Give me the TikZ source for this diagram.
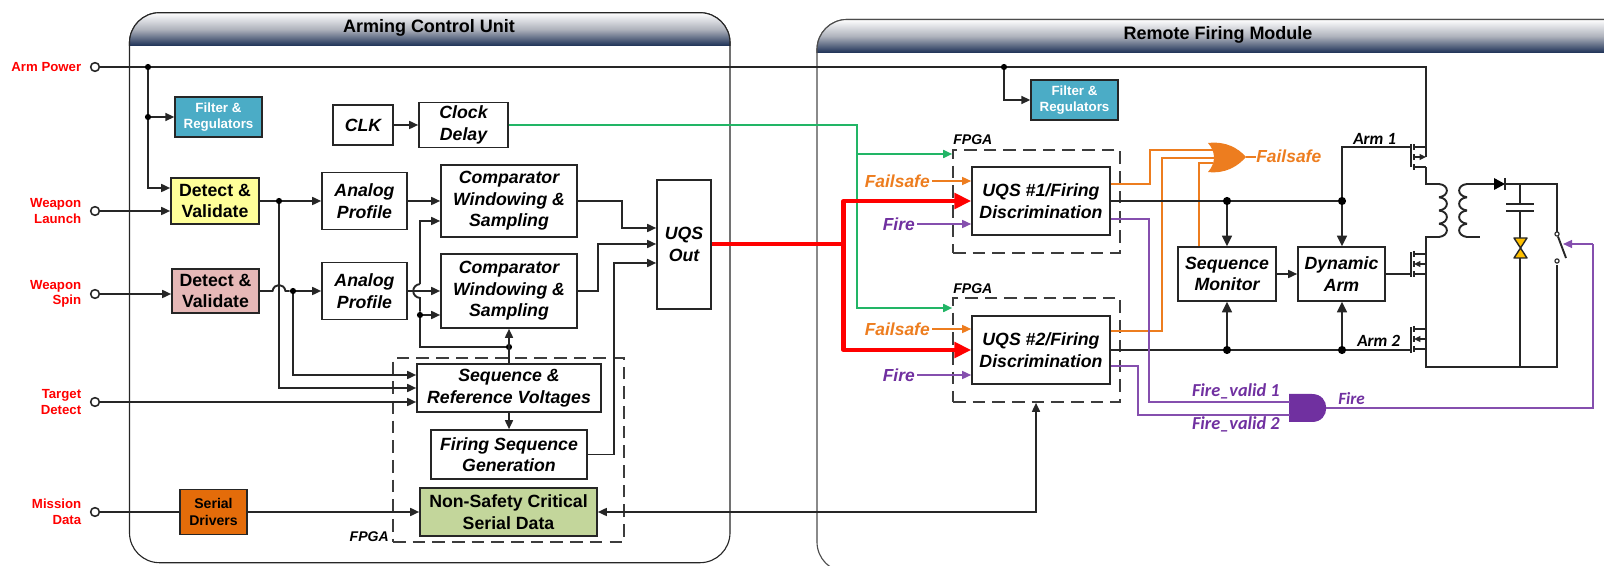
\documentclass[tikz,border=0pt]{standalone}
\usepackage{fontspec}
\setmainfont{Liberation Sans}
\newfontfamily\carlito{Carlito}
\usetikzlibrary{arrows.meta}
\usetikzlibrary{positioning}
\definecolor{navyhead}{HTML}{1B2F55}
\definecolor{greyhead}{HTML}{AEB2BC}
\definecolor{wirecol}{HTML}{262626}
\definecolor{cFilter}{HTML}{4BACC6}
\definecolor{cYellow}{HTML}{FFFF99}
\definecolor{cPink}{HTML}{E6B8B7}
\definecolor{cGreen}{HTML}{C3D69B}
\definecolor{cSerial}{HTML}{E46C0A}
\definecolor{cOrange}{HTML}{ED7D1F}
\definecolor{cPurple}{HTML}{7030A0}
\definecolor{cClock}{HTML}{22B566}
\definecolor{cBow}{HTML}{FFC000}
\tikzset{
    sz/.style 2 args={minimum width=#1*0.25mm,minimum height=#2*0.25mm},
    blk/.style={draw=wirecol,line width=1.1pt,fill=white,inner sep=0pt,align=center,
        font=\fontsize{12.6}{15.4}\selectfont\bfseries\itshape},
    solid blk/.style={blk,font=\fontsize{12.6}{15.4}\selectfont\bfseries},
    fltr/.style={draw=wirecol,line width=.9pt,fill=cFilter,inner sep=0pt,align=center,text=white,
        font=\fontsize{9.5}{11.2}\selectfont\bfseries,sz={87}{40}},
    fpga/.style={draw=wirecol!90,line width=1.1pt,dash pattern=on 9pt off 5pt,inner sep=0pt},
    fpgatxt/.style={font=\fontsize{10}{12}\selectfont\bfseries\itshape,inner sep=0pt},
    sig/.style={text=red,align=right,inner sep=0pt,font=\fontsize{9.4}{11}\selectfont\bfseries},
    term/.style={circle,draw=wirecol,line width=1.1pt,fill=white,inner sep=0pt,minimum size=6.2pt},
    dot/.style={circle,fill=black,inner sep=0pt,minimum size=4.4pt},
    bigdot/.style={circle,fill=black,inner sep=0pt,minimum size=5.8pt},
    wire/.style={draw=wirecol,line width=1.35pt},
    thin wire/.style={draw=wirecol,line width=1pt},
    clkwire/.style={draw=cClock,line width=1.4pt},
    fsw/.style={draw=cOrange,line width=1.2pt},
    firew/.style={draw=cPurple!85,line width=1.2pt},
    redw/.style={draw=red,line width=2.9pt,line join=round},
    fstxt/.style={text=cOrange,inner sep=0pt,font=\fontsize{12.4}{14}\selectfont\bfseries\itshape},
    firetxt/.style={text=cPurple,inner sep=0pt,font=\fontsize{12.4}{14}\selectfont\bfseries\itshape},
    calitxt/.style={inner sep=0pt,font=\fontsize{12.2}{14}\selectfont\carlito\bfseries\itshape},
    title/.style={inner sep=0pt,font=\fontsize{12.8}{15}\selectfont\bfseries},
    hdr/.style={top color=white,bottom color=navyhead,middle color=greyhead},
    >={Stealth[inset=0pt,length=6.4pt,width=5.6pt]},
    big/.style={-{Stealth[inset=0pt,length=7.5pt,width=7pt]}},
    huge/.style={-{Stealth[inset=0pt,length=12pt,width=11pt]}},
    tiny/.style={-{Stealth[inset=0pt,length=4.6pt,width=4.2pt]}}
}
\begin{document}
\begin{tikzpicture}[x=0.25mm,y=-0.25mm]
    \useasboundingbox (0,0) rectangle (1604,566);
    \clip (0,0) rectangle (1604,566);
    % panels
    \draw[draw=black!85,line width=.8pt,rounded corners=7.5mm] (129.5,12.7) rectangle (730,562.7);
    \shade[hdr,sharp corners] (129.5,46) [rounded corners=7.5mm] -- (129.5,12.7) -- (730,12.7) [sharp corners] -- (730,46) -- cycle;
    \draw[draw=black!85,line width=.8pt,sharp corners] (129.5,46) [rounded corners=7.5mm] -- (129.5,12.7) -- (730,12.7) [sharp corners] -- (730,46);
    \draw[draw=black!70,line width=.8pt,rounded corners=7.5mm] (817,19.5) rectangle (1720,572);
    \shade[hdr,sharp corners] (817,53) [rounded corners=7.5mm] -- (817,19.5) -- (1720,19.5) [sharp corners] -- (1720,53) -- cycle;
    \draw[draw=black!70,line width=.8pt,sharp corners] (817,53) [rounded corners=7.5mm] -- (817,19.5) -- (1720,19.5);
    \node[title] (acuTitle) at (429,28) {Arming Control Unit};
    \node[title] (rfmTitle) at (1218,35) {Remote Firing Module};
    % fpga frames
    \node[fpga,sz={231}{184}] (fpgaL) at (508.5,450) {};
    \node[fpga,sz={167}{103}] (fpgaA) at (1036.5,201.5) {};
    \node[fpga,sz={167}{104}] (fpgaB) at (1036.5,350) {};
    \node[fpgatxt,anchor=east] (fpgaLtxt) at (389,537) {FPGA};
    \node[fpgatxt,anchor=west] (fpgaAtxt) at (953,140) {FPGA};
    \node[fpgatxt,anchor=west] (fpgaBtxt) at (953,289) {FPGA};
    % left blocks
    \node[fltr] (fltA) at (218.5,117) {Filter \&\\Regulators};
    \node[blk,sz={60}{40}] (clk) at (363,125) {CLK};
    \node[blk,sz={89}{45}] (clkDly) at (463.5,125) {Clock\\Delay};
    \node[solid blk,fill=cYellow,sz={88}{46}] (detA) at (215,201) {Detect \&\\Validate};
    \node[blk,sz={85}{57}] (anaA) at (364.5,201) {Analog\\Profile};
    \node[solid blk,fill=cPink,sz={87}{44}] (detB) at (215.5,291) {Detect \&\\Validate};
    \node[blk,sz={85}{57}] (anaB) at (364.5,291) {Analog\\Profile};
    \node[blk,sz={136}{72}] (cmpA) at (509,201) {Comparator\\Windowing \&\\Sampling};
    \node[blk,sz={136}{74}] (cmpB) at (509,291) {Comparator\\Windowing \&\\Sampling};
    \node[blk,sz={54}{129}] (uqsOut) at (684,244.5) {UQS\\Out};
    \node[blk,sz={184}{48}] (seqRef) at (509,388) {Sequence \&\\Reference Voltages};
    \node[blk,sz={156}{49}] (fireSeq) at (509,454.5) {Firing Sequence\\Generation};
    \node[solid blk,fill=cGreen,sz={177}{48}] (nonSafe) at (508.5,512) {Non-Safety Critical\\Serial Data};
    \node[draw=wirecol,line width=1pt,fill=cSerial,inner sep=0pt,align=center,sz={67}{45},
        font=\fontsize{10}{11.9}\selectfont\bfseries] (serDrv) at (213.5,512) {Serial\\Drivers};
    % right blocks
    \node[fltr] (fltB) at (1074.5,100) {Filter \&\\Regulators};
    \node[blk,sz={138}{68}] (uqsA) at (1041,201) {UQS \#1/Firing\\Discrimination};
    \node[blk,sz={138}{68}] (uqsB) at (1041,350) {UQS \#2/Firing\\Discrimination};
    \node[blk,sz={98}{54}] (seqMon) at (1227,274) {Sequence\\Monitor};
    \node[blk,sz={87}{54}] (dynArm) at (1341.5,274) {Dynamic\\Arm};
    % inputs
    \node[term] (tArm) at (95,67) {};
    \node[term] (tLch) at (95,211) {};
    \node[term] (tSpn) at (95,294) {};
    \node[term] (tTgt) at (95,402) {};
    \node[term] (tMsn) at (95,512) {};
    \node[sig,left=2.1mm of tArm] (lArm) {Arm Power};
    \node[sig,left=2.1mm of tLch] (lLch) {Weapon\\Launch};
    \node[sig,left=2.1mm of tSpn] (lSpn) {Weapon\\Spin};
    \node[sig,left=2.1mm of tTgt] (lTgt) {Target\\Detect};
    \node[sig,left=2.1mm of tMsn] (lMsn) {Mission\\Data};
    % junctions
    \node[dot] (jArmA) at (148,67) {};
    \node[dot] (jArmB) at (148,117) {};
    \node[dot] (jArmC) at (1004,67) {};
    \node[dot] (jDetA) at (279,201) {};
    \node[dot] (jDetB) at (293,291) {};
    \node[dot] (jCmp) at (420,315) {};
    \node[dot] (jSeq) at (509,347) {};
    \node[bigdot] (jMonA) at (1227,201) {};
    \node[bigdot] (jArmD) at (1342,201) {};
    \node[bigdot] (jMonB) at (1227,350) {};
    \node[bigdot] (jArmE) at (1342,350) {};
    \coordinate (jRed) at (843.5,244);
    \coordinate (jGrn) at (857,154);
    % power and sensor wires
    \draw[wire] (tArm) -- (jArmA) -- (jArmC) -- (1426,67) -- (1426,157);
    \draw[wire] (jArmA) -- (jArmB);
    \draw[wire,->] (jArmB) -- (fltA.west |- jArmB);
    \draw[wire,->] (jArmB) |- (detA.west |- 0,188);
    \draw[wire,->] (jArmC) |- (fltB.west);
    \draw[wire,->] (tLch) -- (detA.west |- tLch);
    \draw[wire,->] (tSpn) -- (detB.west |- tSpn);
    \draw[wire] (tMsn) -- (serDrv.west);
    \draw[wire,->] (serDrv.east) -- (nonSafe.west);
    \draw[wire,->] (tTgt) -- (seqRef.west |- tTgt);
    \draw[wire,->] (clk.east) -- (clkDly.west);
    \draw[wire] (detA.east) -- (jDetA);
    \draw[wire,->] (jDetA) -- (anaA.west);
    \draw[wire,->] (anaA.east) -- (cmpA.west);
    \draw[wire] (detB.east) -- (272.5,291) .. controls (274,283) and (284,283) .. (285.5,291) -- (jDetB);
    \draw[wire,->] (jDetB) -- (anaB.west);
    \draw[wire,->] (jDetA) |- (seqRef.west |- 0,388);
    \draw[wire,->] (jDetB) |- (seqRef.west |- 0,375);
    \draw[wire,->] (anaB.east) -- (cmpB.west);
    \draw[wire,->] (420,284) -- (420,221) -- (cmpA.west |- 0,221);
    \draw[wire] (420,284) .. controls (411,285) and (411,297) .. (420,298) -- (jCmp);
    \draw[wire,->] (jCmp) -- (cmpB.west |- jCmp);
    \draw[wire] (jCmp) |- (jSeq);
    \draw[wire,->] (seqRef.north) -- (cmpB.south);
    \draw[wire,->] (seqRef.south) -- (fireSeq.north);
    \draw[wire,->] (cmpA.east) -| (622,228) -- (uqsOut.west |- 0,228);
    \draw[wire,->] (cmpB.east) -| (598,244) -- (uqsOut.west |- 0,244);
    \draw[wire,->] (fireSeq.east) -| (614,263) -- (uqsOut.west |- 0,263);
    \draw[wire,big,<->] (nonSafe.east) -| (fpgaB.south -| 1036,0);
    % clock and uqs
    \draw[clkwire] (clkDly.east) -| (jGrn);
    \draw[clkwire,->] (jGrn) -- (fpgaA.west |- jGrn);
    \draw[clkwire,->] (jGrn) |- (fpgaB.west |- 0,308);
    \draw[redw] (uqsOut.east |- jRed) -- (jRed);
    \draw[redw,huge] (jRed) |- (uqsA.west);
    \draw[redw,huge] (jRed) |- (uqsB.west);
    % uqs inputs
    \foreach \nm/\yy/\bx in {fsA/181/uqsA,fsB/329/uqsB}{
        \node[fstxt,anchor=east] (\nm) at (930,\yy) {Failsafe};
        \draw[fsw,->] (\nm.east) ++(2,0) -- (\bx.west |- \nm);
    }
    \foreach \nm/\yy/\bx in {frA/224/uqsA,frB/375/uqsB}{
        \node[firetxt,anchor=east] (\nm) at (915,\yy) {Fire};
        \draw[firew,->] (\nm.east) ++(2,0) -- (\bx.west |- \nm);
    }
    % or gate
    \fill[cOrange] (1208,143) .. controls (1226,141) and (1238,148) .. (1246,157)
        .. controls (1238,166) and (1226,174) .. (1208,172) .. controls (1216,163) and (1216,152) .. cycle;
    \coordinate (orOut) at (1246,157);
    \draw[fsw] (uqsA.east |- 0,184) -| (1150,150) -- (1213,150);
    \draw[fsw] (uqsB.east |- 0,331) -| (1162,158) -- (1215,158);
    \draw[fsw] (seqMon.north -| 1199,0) |- (1213,163);
    \draw[fsw] (orOut) -- (1256,157);
    \node[fstxt,anchor=west] (fsOut) at (1256,156) {Failsafe};
    % monitor and arm
    \draw[wire] (uqsA.east) -- (jMonA);
    \draw[wire] (jMonA) -- (jArmD);
    \draw[wire] (uqsB.east) -- (jMonB);
    \draw[wire] (jMonB) -- (jArmE);
    \draw[wire,big] (jMonA) -- (seqMon.north);
    \draw[wire,big] (jArmD) -- (dynArm.north -| jArmD);
    \draw[wire,big] (jMonB) -- (seqMon.south);
    \draw[wire,big] (jArmE) -- (dynArm.south -| jArmE);
    \draw[wire,->] (seqMon.east) -- (dynArm.west);
    \draw[wire] (jArmD) |- (1411,147);
    \draw[wire] (dynArm.east) -- (1411,274);
    \draw[wire] (jArmE) -- (1411,350);
    \node[calitxt,anchor=west] (armA) at (1353,139) {Arm 1};
    \node[calitxt,anchor=west] (armB) at (1357,341) {Arm 2};
    % fire valid
    \fill[cPurple] (1289,394) -- (1312,394) .. controls (1331,394) and (1331,422) .. (1312,422) -- (1289,422) -- cycle;
    \coordinate (andOut) at (1326,408);
    \draw[firew] (uqsA.east |- 0,219) -| (1149,402) -- (1290,402);
    \draw[firew] (uqsB.east |- 0,366) -| (1138,415) -- (1290,415);
    \node[calitxt,text=cPurple,anchor=east,font=\fontsize{13}{15}\selectfont\carlito\bfseries\itshape] (fvA) at (1280,391) {Fire\_valid 1};
    \node[calitxt,text=cPurple,anchor=east,font=\fontsize{13}{15}\selectfont\carlito\bfseries\itshape] (fvB) at (1280,424) {Fire\_valid 2};
    \node[calitxt,text=cPurple,anchor=west] (frOut) at (1338,399) {Fire};
    % mosfets
    \foreach \yy/\gb/\ge in {147/144/167,254/252/277,329/327/353}{
        \draw[thin wire] (1411,\gb) -- (1411,\ge);
        \foreach \dy in {-3,7,17}
            \draw[thin wire] (1414,\yy+\dy) -- (1414,\yy+\dy+6);
        \draw[wire] (1414,\yy) -- (1426,\yy);
        \draw[wire] (1414,\yy+20) -- (1426,\yy+20);
    }
    \draw[thin wire,tiny] (1414,157) -- (1426,157);
    \draw[thin wire,tiny] (1426,264) -- (1414,264);
    \draw[thin wire,tiny] (1426,339) -- (1414,339);
    \draw[wire] (1426,167) -- (1426,184) -- (1439,184);
    \draw[wire] (1439,237) -- (1426,237) -- (1426,254);
    \draw[wire] (1426,254) -- (1426,329);
    \draw[wire] (1426,329) -- (1426,367) -- (1557,367) -- (1557,265);
    % transformer
    \foreach \yy in {184,197.25,210.5,223.75}{
        \draw[wire] (1439,\yy) .. controls (1449.5,\yy+1) and (1449.5,\yy+12) .. (1439,\yy+13.25);
        \draw[wire] (1467,\yy) .. controls (1456.5,\yy+1) and (1456.5,\yy+12) .. (1467,\yy+13.25);
    }
    \draw[wire] (1467,184) -- (1494,184);
    \draw[wire] (1467,237) -- (1480,237);
    % diode, capacitor, squib, switch
    \fill[black] (1494,178) -- (1505,184) -- (1494,190) -- cycle;
    \draw[wire] (1505,178) -- (1505,190);
    \draw[wire] (1505,184) -- (1557,184) -- (1557,232);
    \draw[wire] (1520,184) -- (1520,204);
    \draw[wire] (1506,204) -- (1534,204);
    \draw[wire] (1506,211) -- (1534,211);
    \draw[wire] (1520,211) -- (1520,238);
    \draw[draw=wirecol,line width=1pt,fill=cBow,line join=round] (1514,238) -- (1527,238) -- (1514,258) -- (1527,258) -- cycle;
    \draw[wire] (1520,258) -- (1520,367);
    \node[circle,draw=wirecol,line width=.8pt,fill=white,inner sep=0pt,minimum size=3pt] (swTop) at (1557,234) {};
    \node[circle,draw=wirecol,line width=.8pt,fill=white,inner sep=0pt,minimum size=3pt] (swBot) at (1557,261) {};
    \draw[wire] (swTop) -- (1566,258);
    % fire output
    \draw[firew] (andOut) -- (1593,408) -- (1593,244);
    \draw[firew,->] (1593,244) -- (1563,244);
\end{tikzpicture}
\end{document}
